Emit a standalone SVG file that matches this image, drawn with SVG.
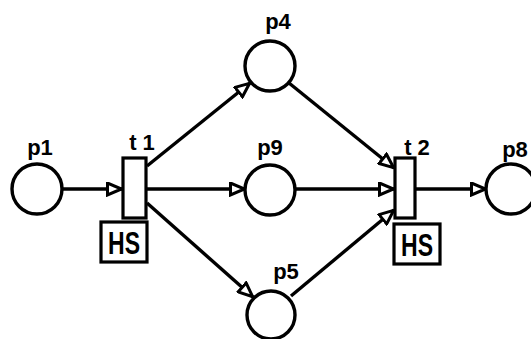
<svg xmlns="http://www.w3.org/2000/svg" width="531" height="339" viewBox="0 0 531 339">
<defs>
<style>
.place{fill:#fff;stroke:#000;stroke-width:3.4}
.trans{fill:#fff;stroke:#000;stroke-width:3.2}
.lbl{font-family:"Liberation Sans",Arial,sans-serif;font-size:22px;font-weight:bold;fill:#000;text-anchor:middle}
.hs{font-family:"Liberation Sans Narrow","Liberation Sans",Arial,sans-serif;font-size:31px;font-weight:bold;fill:#000;text-anchor:middle}
.arc{stroke:#000;stroke-width:3.4;fill:none;marker-end:url(#arr)}
</style>
<marker id="arr" viewBox="0 0 17 15" refX="16" refY="7.5" markerWidth="17" markerHeight="15" markerUnits="userSpaceOnUse" orient="auto">
<path d="M1.5,1.5 L15.5,7.5 L1.5,13.5 Z" fill="#fff" stroke="#000" stroke-width="3"/>
</marker>
</defs>
<g id="connectors">
<line class="arc" x1="62" y1="189" x2="122" y2="189"/>
<line class="arc" x1="147" y1="166" x2="250" y2="83"/>
<line class="arc" x1="147" y1="189" x2="245" y2="189"/>
<line class="arc" x1="147" y1="203" x2="253" y2="297"/>
<line class="arc" x1="289" y1="83" x2="394" y2="168"/>
<line class="arc" x1="295" y1="189" x2="394" y2="189"/>
<line class="arc" x1="291" y1="296" x2="394" y2="210"/>
<line class="arc" x1="415" y1="189" x2="486" y2="189"/>
</g>
<g id="p1"><circle class="place" cx="37" cy="189" r="25"/><text class="lbl" x="40" y="155">p1</text></g>
<g id="p4"><circle class="place" cx="270" cy="66" r="25"/><text class="lbl" x="278" y="29">p4</text></g>
<g id="p9"><circle class="place" cx="270" cy="190" r="25"/><text class="lbl" x="270" y="155">p9</text></g>
<g id="p5"><circle class="place" cx="271" cy="315" r="24"/><text class="lbl" x="286" y="279">p5</text></g>
<g id="p8"><circle class="place" cx="511" cy="189" r="25"/><text class="lbl" x="515" y="157">p8</text></g>
<g id="t1"><rect class="trans" x="123" y="158" width="23" height="60"/><text class="lbl" x="142" y="150">t 1</text>
<rect class="trans" x="101" y="222" width="46" height="40"/><text class="hs" x="124" y="254" textLength="32" lengthAdjust="spacingAndGlyphs">HS</text></g>
<g id="t2"><rect class="trans" x="395" y="158" width="20" height="60"/><text class="lbl" x="417" y="155">t 2</text>
<rect class="trans" x="394" y="224" width="46" height="40"/><text class="hs" x="417" y="256" textLength="32" lengthAdjust="spacingAndGlyphs">HS</text></g>
</svg>
